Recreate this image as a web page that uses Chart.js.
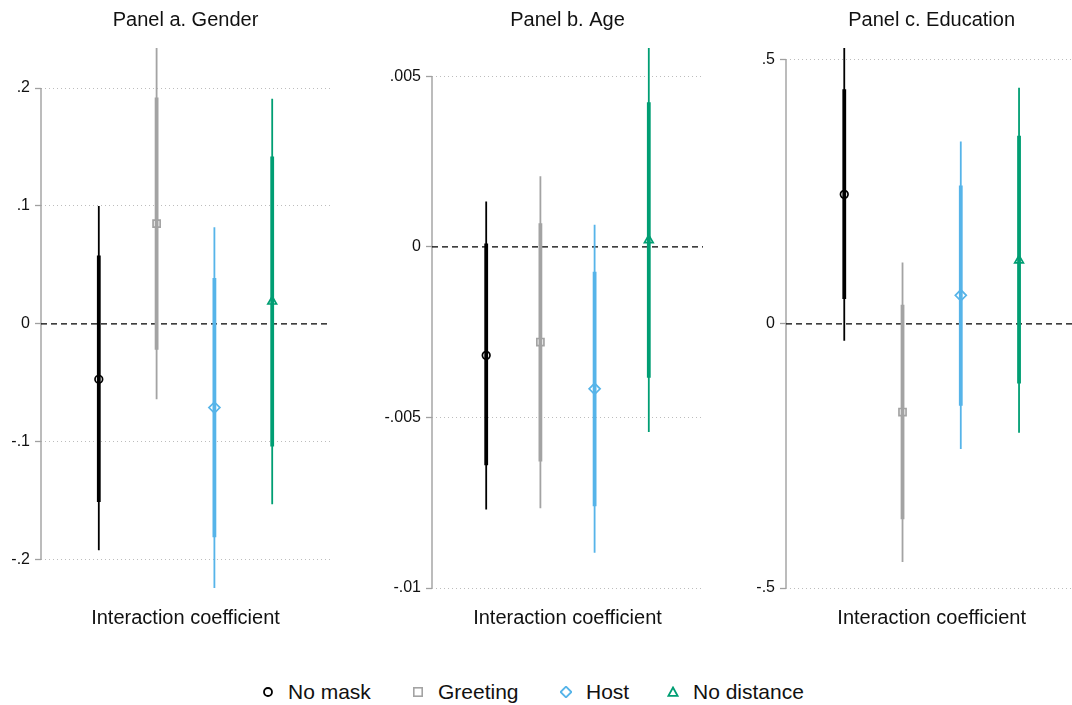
<!DOCTYPE html>
<html>
<head>
<meta charset="utf-8">
<script src="https://cdn.jsdelivr.net/npm/chart.js@4.4.1/dist/chart.umd.min.js"></script>
<style>
  body { margin: 0; background: #fff; }
  #wrap { position: relative; width: 1072px; height: 705px; overflow: hidden; background: #fff;
          font-family: "Liberation Sans", Arial, Helvetica, sans-serif; color: #111; }
  canvas { position: absolute; top: 0; }
  .key { position: absolute; top: 679px; height: 26px; font-size: 21px; line-height: 26px; white-space: nowrap; }
  .key svg { position: absolute; top: 7px; }
</style>
</head>
<body>
<div id="wrap">
  <canvas id="gender" width="345" height="640" style="left:0px"></canvas>
  <canvas id="age" width="360" height="640" style="left:360px"></canvas>
  <canvas id="edu" width="354" height="640" style="left:730px"></canvas>
  <div id="legend"></div>
</div>
<script>
// treatment arms, one marker/colour each
const SERIES = ['No mask', 'Greeting', 'Host', 'No distance'];
const COLORS = ['#000000', '#a3a3a3', '#56b4e9', '#009e73'];
const STYLES = ['circle', 'rect', 'rectRot', 'triangle'];
const RADII = [3.8, 5, 5.5, 5];

// Panel a. Gender
const genderCoef = [-0.047, 0.085, -0.071, 0.019];
const genderLoThin = [-0.192, -0.064, -0.224, -0.153];
const genderHiThin = [0.100, 0.234, 0.082, 0.191];
const genderLoThick = [-0.151, -0.022, -0.181, -0.104];
const genderHiThick = [0.058, 0.192, 0.039, 0.142];
const genderTicks = [-0.2, -0.1, 0, 0.1, 0.2];

// Panel b. Age
const ageCoef = [-0.00318, -0.00279, -0.00416, 0.0002];
const ageLoThin = [-0.0077, -0.00766, -0.00897, -0.00543];
const ageHiThin = [0.00133, 0.00207, 0.00065, 0.00583];
const ageLoThick = [-0.0064, -0.00629, -0.0076, -0.00384];
const ageHiThick = [0.0001, 0.00069, -0.00073, 0.00424];
const ageTicks = [-0.01, -0.005, 0, 0.005];

// Panel c. Education
const eduCoef = [0.245, -0.167, 0.054, 0.120];
const eduLoThin = [-0.032, -0.451, -0.237, -0.206];
const eduHiThin = [0.522, 0.116, 0.345, 0.447];
const eduLoThick = [0.047, -0.370, -0.155, -0.113];
const eduHiThick = [0.444, 0.036, 0.262, 0.356];
const eduTicks = [-0.5, 0, 0.5];

const FONT = '"Liberation Sans", Arial, Helvetica, sans-serif';

// Stata-style labels: .2, -.005, 0
const fmt = v => v === 0 ? '0' : String(v).replace('0.', '.');

// y axis line only runs between the outer ticks
const axisLine = {
  id: 'axisLine',
  beforeDatasetsDraw(chart) {
    const ys = chart.scales.y;
    const vals = ys.ticks.map(t => t.value);
    const x = chart.chartArea.left;
    const ctx = chart.ctx;
    ctx.save();
    ctx.strokeStyle = '#a0a0a0';
    ctx.lineWidth = 1.4;
    ctx.beginPath();
    ctx.moveTo(x, ys.getPixelForValue(Math.max(...vals)));
    ctx.lineTo(x, ys.getPixelForValue(Math.min(...vals)));
    ctx.stroke();
    ctx.restore();
  }
};

function ciBars(lo, hi, width, order) {
  return {
    type: 'bar',
    data: SERIES.map((_, i) => ({ x: i + 1, y: [lo[i], hi[i]] })),
    backgroundColor: COLORS,
    borderWidth: 0,
    grouped: false,
    maxBarThickness: width,
    order: order
  };
}

function panel(id, title, coef, loThin, hiThin, loThick, hiThick, ticks, axisW, padRight) {
  const yMin = Math.min(...loThin, ...ticks);
  const yMax = Math.max(...hiThin, ...ticks);
  new Chart(document.getElementById(id), {
    type: 'bar',
    data: {
      datasets: [
        {
          type: 'line',
          data: [{ x: 0, y: 0 }, { x: 5, y: 0 }],
          borderColor: '#000',
          borderWidth: 1.3,
          borderDash: [6, 4],
          pointRadius: 0,
          order: 3
        },
        ciBars(loThin, hiThin, 1.8, 2),
        ciBars(loThick, hiThick, 3.8, 1),
        {
          type: 'line',
          showLine: false,
          data: coef.map((v, i) => ({ x: i + 1, y: v })),
          pointStyle: STYLES,
          pointRadius: RADII,
          pointBorderColor: COLORS,
          pointBackgroundColor: 'rgba(0,0,0,0)',
          pointBorderWidth: 1.7,
          order: 0
        }
      ]
    },
    options: {
      responsive: false,
      animation: false,
      events: [],
      layout: { padding: { left: 0, right: padRight, top: 0, bottom: 0 } },
      plugins: {
        legend: { display: false },
        tooltip: { enabled: false },
        title: {
          display: true,
          text: title,
          fullSize: false,
          color: '#111',
          font: { family: FONT, size: 20, weight: 'normal' },
          padding: { top: 8, bottom: 16 }
        }
      },
      scales: {
        x: {
          type: 'linear',
          min: 0,
          max: 5,
          offset: false,
          ticks: { display: false },
          grid: { display: false, drawTicks: false },
          border: { display: false },
          title: {
            display: true,
            text: 'Interaction coefficient',
            color: '#111',
            font: { family: FONT, size: 20 },
            padding: { top: 18, bottom: 10 }
          }
        },
        y: {
          min: yMin,
          max: yMax,
          afterBuildTicks: s => { s.ticks = ticks.map(v => ({ value: v })); },
          afterFit: s => { s.width = axisW; },
          grid: {
            color: c => (c.tick && c.tick.value === 0) ? 'rgba(0,0,0,0)' : '#bdbdbd',
            lineWidth: 1,
            tickColor: '#a0a0a0',
            tickWidth: 1.3,
            tickLength: 6,
            tickBorderDash: []
          },
          border: { display: false, dash: [1, 3] },
          ticks: {
            padding: 5,
            color: '#111',
            font: { family: FONT, size: 16 },
            callback: v => fmt(v)
          }
        }
      }
    },
    plugins: [axisLine]
  });
}

panel('gender', 'Panel a. Gender', genderCoef, genderLoThin, genderHiThin, genderLoThick, genderHiThick, genderTicks, 41, 15);
panel('age', 'Panel b. Age', ageCoef, ageLoThin, ageHiThin, ageLoThick, ageHiThick, ageTicks, 72, 17);
panel('edu', 'Panel c. Education', eduCoef, eduLoThin, eduHiThin, eduLoThick, eduHiThick, eduTicks, 56, 4);

// legend row under the panels
const KEY_MARK_X = [268, 418, 566, 673];
const shapes = [
  c => `<circle cx="6" cy="6" r="4" fill="none" stroke="${c}" stroke-width="1.8"/>`,
  c => `<rect x="1.8" y="1.8" width="8.4" height="8.4" fill="none" stroke="${c}" stroke-width="1.6"/>`,
  c => `<polygon points="6,0.6 11.4,6 6,11.4 0.6,6" fill="none" stroke="${c}" stroke-width="1.8"/>`,
  c => `<polygon points="6,1.5 10.6,9.8 1.4,9.8" fill="none" stroke="${c}" stroke-width="1.8"/>`
];
const legend = document.getElementById('legend');
SERIES.forEach((name, i) => {
  const el = document.createElement('div');
  el.className = 'key';
  el.style.left = (KEY_MARK_X[i] - 6) + 'px';
  el.innerHTML = `<svg width="12" height="12" viewBox="0 0 12 12">${shapes[i](COLORS[i])}</svg>` +
    `<span style="margin-left:26px">${name}</span>`;
  legend.appendChild(el);
});
</script>
</body>
</html>
